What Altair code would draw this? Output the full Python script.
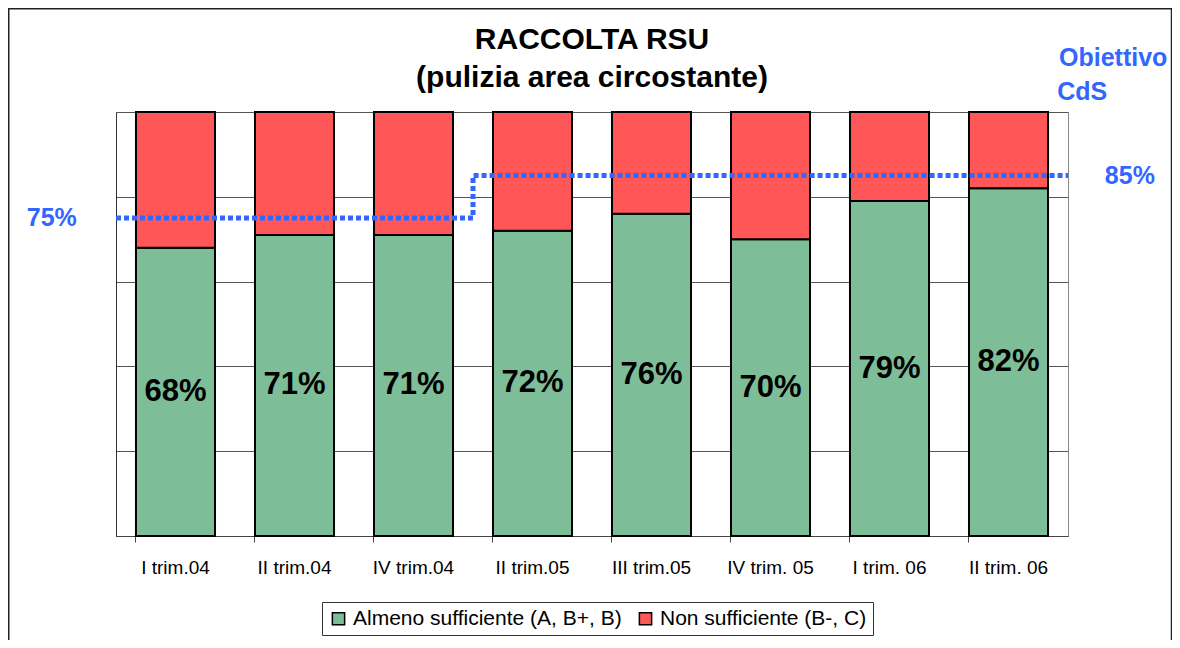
import altair as alt
import pandas as pd

# ---------------- data ----------------
categories = ["I trim.04", "II trim.04", "IV trim.04", "II trim.05",
              "III trim.05", "IV trim. 05", "I trim. 06", "II trim. 06"]
almeno = [68, 71, 71, 72, 76, 70, 79, 82]          # Almeno sufficiente (%)
non_suff = [32, 29, 29, 28, 24, 30, 21, 18]        # Non sufficiente (%)
series = ["Almeno sufficiente (A, B+, B)", "Non sufficiente (B-, C)"]
obiettivo = [75, 75, 75, 85, 85, 85, 85, 85]       # Obiettivo CdS per trimestre
obiettivo_labels = ["75%", "85%"]
obiettivo_title = ["Obiettivo", "CdS"]
title_lines = ["RACCOLTA RSU", "(pulizia area circostante)"]

GREEN = "#7DBE98"
RED = "#FF5757"
BLUE = "#3366FF"
FONT = "Liberation Sans"

# ---------------- tables ----------------
rows = []
for i, c in enumerate(categories):
    rows.append({"cat": c, "series": series[0], "value": almeno[i], "ord": 0})
    rows.append({"cat": c, "series": series[1], "value": non_suff[i], "ord": 1})
df = pd.DataFrame(rows)

lab = pd.DataFrame({"cat": categories,
                    "mid": [v / 2 for v in almeno],
                    "label": [f"{v}%" for v in almeno]})

step_rows = []
k = 0
for i, v in enumerate(obiettivo):
    step_rows.append({"pos": i, "val": v, "k": k}); k += 1
    step_rows.append({"pos": i + 1, "val": v, "k": k}); k += 1
step = pd.DataFrame(step_rows)

n = len(categories)
ann = pd.DataFrame({
    "t": [obiettivo_labels[0], obiettivo_labels[1], obiettivo_title[0], obiettivo_title[1]],
    "px": [-0.54, n + 0.52, n + 0.38, n + 0.12],
    "py": [obiettivo[0], obiettivo[-1], 112.8, 104.8],
})
ttl = pd.DataFrame({"t": title_lines, "px": [n / 2, n / 2], "py": [117.0, 108.0]})

yscale = alt.Scale(domain=[0, 100], nice=False)
xq = alt.Scale(domain=[0, n], nice=False, zero=False)
xband = alt.Scale(paddingInner=0.336, paddingOuter=0.168)

bars = alt.Chart(df).mark_bar(stroke="black", strokeWidth=2).encode(
    x=alt.X("cat:N", sort=categories, scale=xband,
            axis=alt.Axis(title=None, labelAngle=0, bandPosition=0, ticks=True,
                          tickSize=6, tickColor="#444", domainColor="#444",
                          labelPadding=16, labelFontSize=19, labelFont=FONT,
                          labelColor="black", grid=False)),
    y=alt.Y("value:Q", stack="zero", scale=yscale,
            axis=alt.Axis(title=None, values=[0, 20, 40, 60, 80, 100],
                          labels=False, ticks=False, domainColor="#333",
                          gridColor="#555", gridWidth=1, grid=True)),
    color=alt.Color("series:N", scale=alt.Scale(domain=series, range=[GREEN, RED]),
                    legend=alt.Legend(orient="none", legendX=206, legendY=490,
                                      direction="horizontal", title=None,
                                      strokeColor="#333", fillColor="white",
                                      padding=6, symbolType="square",
                                      symbolSize=150, symbolStrokeColor="black",
                                      symbolStrokeWidth=1.5, labelFontSize=21,
                                      labelFont=FONT, labelColor="black",
                                      columnPadding=13, labelLimit=400)),
    order=alt.Order("ord:Q"),
)

texts = alt.Chart(lab).mark_text(fontSize=31, fontWeight="bold", font=FONT,
                                 color="black").encode(
    x=alt.X("cat:N", sort=categories, scale=xband),
    y=alt.Y("mid:Q", scale=yscale),
    text="label:N",
)

line = alt.Chart(step).mark_line(color=BLUE, strokeWidth=5, strokeDash=[5, 3],
                                 strokeCap="butt", strokeJoin="miter").encode(
    x=alt.X("pos:Q", scale=xq, axis=None),
    y=alt.Y("val:Q", scale=yscale),
    order=alt.Order("k:Q"),
)

annot = alt.Chart(ann).mark_text(color=BLUE, fontWeight="bold", fontSize=25,
                                 font=FONT).encode(
    x=alt.X("px:Q", scale=xq, axis=None),
    y=alt.Y("py:Q", scale=yscale),
    text="t:N",
)

title = alt.Chart(ttl).mark_text(color="black", fontWeight="bold", fontSize=30,
                                 font=FONT).encode(
    x=alt.X("px:Q", scale=xq, axis=None),
    y=alt.Y("py:Q", scale=yscale),
    text="t:N",
)

frame = alt.Chart(alt.Data(values=[{"k": 0}])).mark_rect(
    filled=False, stroke="#222", strokeWidth=1.5).encode(
    x=alt.value(-107.25), x2=alt.value(1055.5),
    y=alt.value(-103.25), y2=alt.value(700),
)

band_layer = alt.layer(bars, texts)
q_layer = alt.layer(line, annot, title, frame)

chart = alt.layer(band_layer, q_layer).resolve_scale(x="independent").properties(
    width=952, height=424,
    padding={"left": 108, "top": 104, "right": 104, "bottom": 104},
    autosize=alt.AutoSizeParams(type="none"),
).configure_view(stroke="#888", strokeWidth=1)

chart.save("out.html", embed_options={"renderer": "svg", "actions": False})
